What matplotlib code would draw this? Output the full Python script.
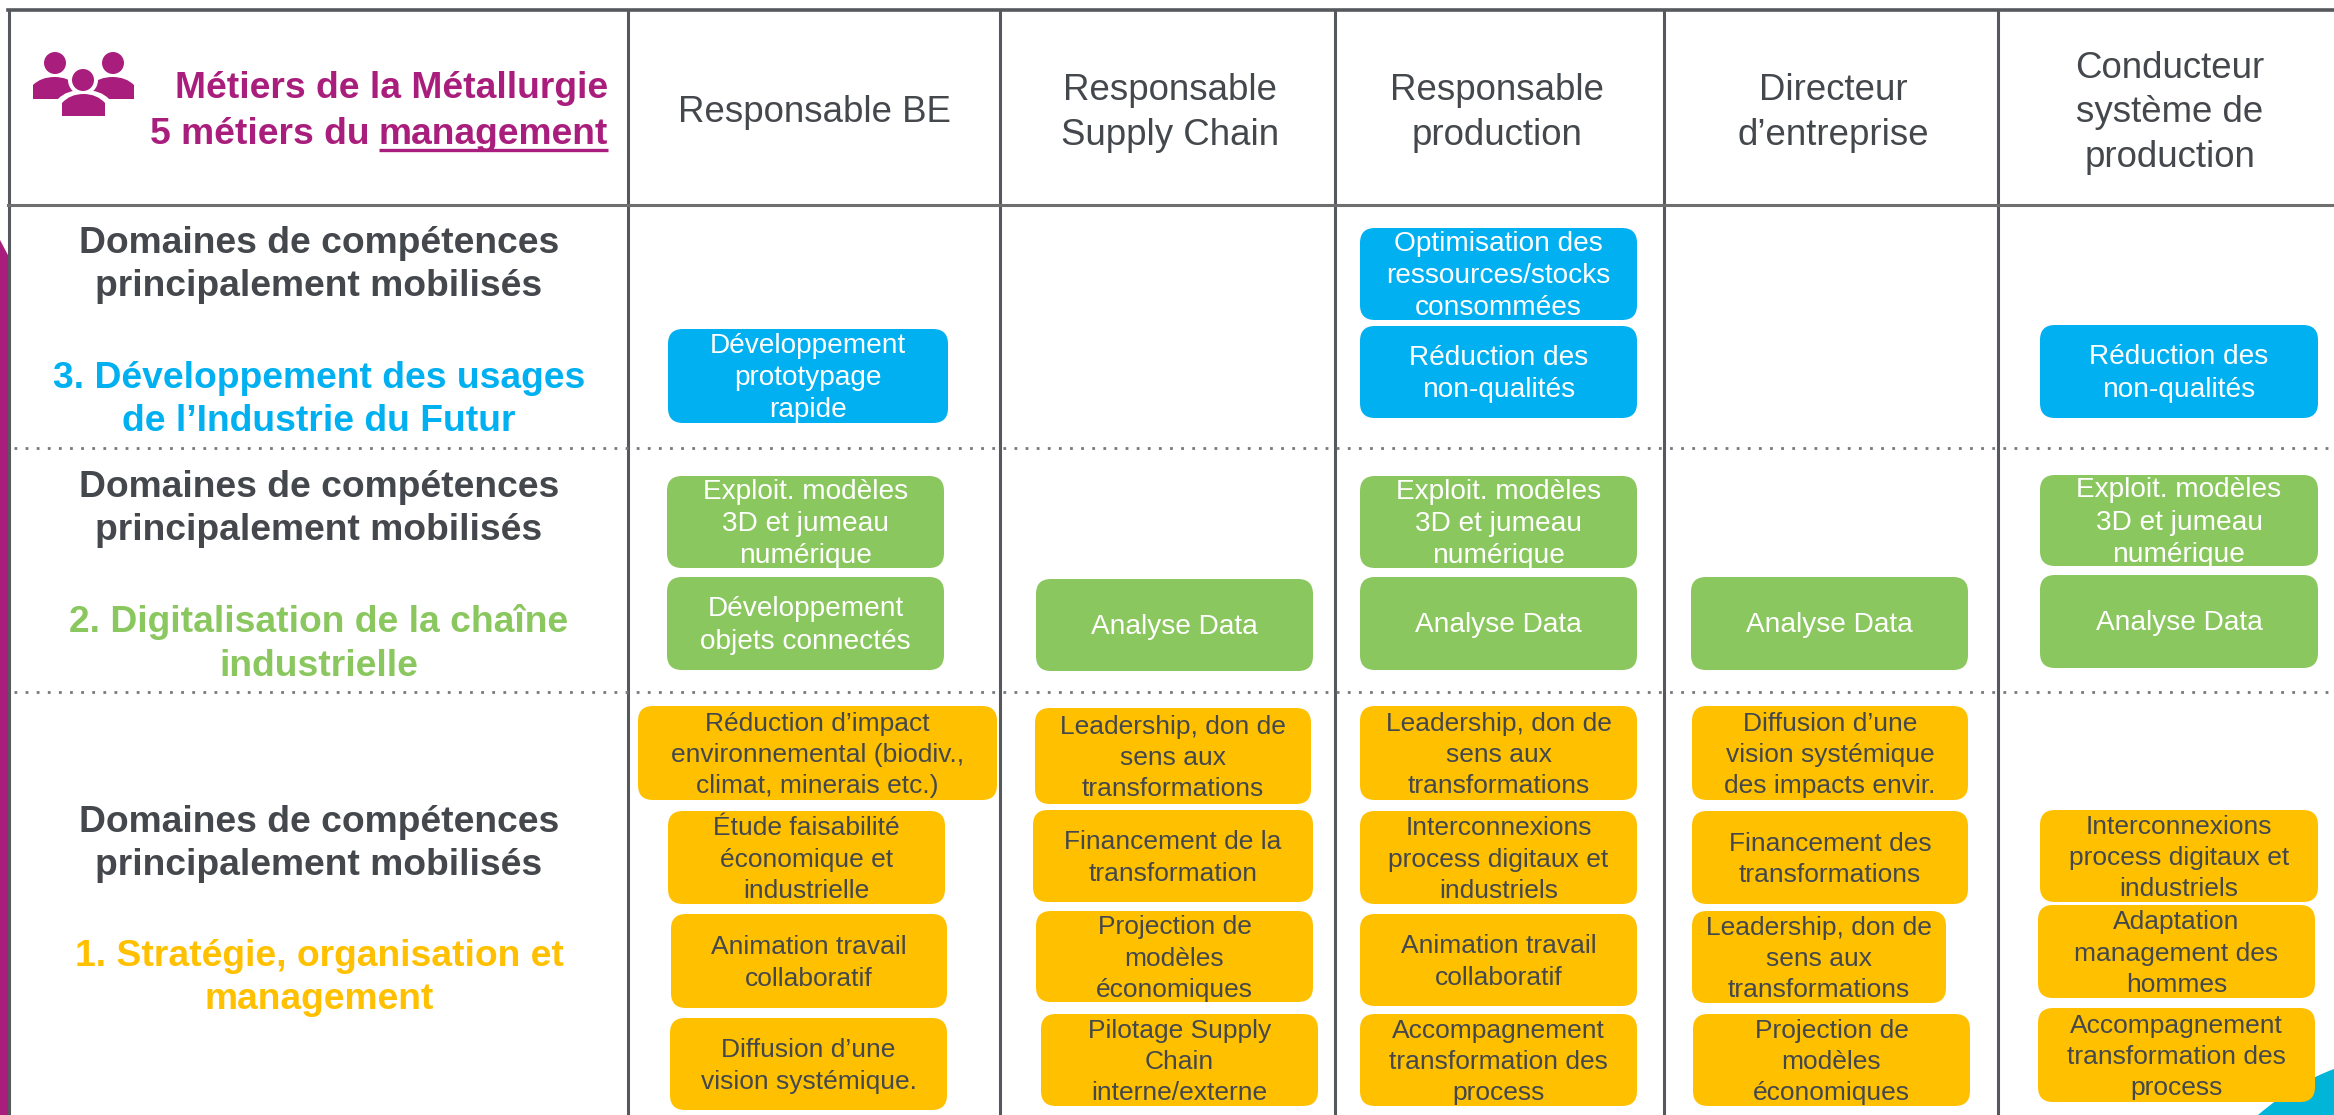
import matplotlib
matplotlib.use('Agg')
import matplotlib.pyplot as plt
from matplotlib.patches import FancyBboxPatch, Circle, Polygon, PathPatch
from matplotlib.path import Path

plt.rcParams['font.family'] = ['Liberation Sans', 'DejaVu Sans']

# ---- content ----
jobs = ['Responsable BE', 'Responsable\nSupply Chain', 'Responsable\nproduction',
        'Directeur\nd’entreprise', 'Conducteur\nsystème de\nproduction']

domain_intro = 'Domaines de compétences\nprincipalement mobilisés'
domain_names = ['3. Développement des usages\nde l’Industrie du Futur',
                '2. Digitalisation de la chaîne\nindustrielle',
                '1. Stratégie, organisation et\nmanagement']

blue_skills = [
    ['Développement\nprototypage\nrapide'],
    [],
    ['Optimisation des\nressources/stocks\nconsommées', 'Réduction des\nnon-qualités'],
    [],
    ['Réduction des\nnon-qualités'],
]
green_skills = [
    ['Exploit. modèles\n3D et jumeau\nnumérique', 'Développement\nobjets connectés'],
    ['Analyse Data'],
    ['Exploit. modèles\n3D et jumeau\nnumérique', 'Analyse Data'],
    ['Analyse Data'],
    ['Exploit. modèles\n3D et jumeau\nnumérique', 'Analyse Data'],
]
orange_skills = [
    ['Réduction d’impact\nenvironnemental (biodiv.,\nclimat, minerais etc.)',
     'Étude faisabilité\néconomique et\nindustrielle',
     'Animation travail\ncollaboratif',
     'Diffusion d’une\nvision systémique.'],
    ['Leadership, don de\nsens aux\ntransformations',
     'Financement de la\ntransformation',
     'Projection de\nmodèles\néconomiques',
     'Pilotage Supply\nChain\ninterne/externe'],
    ['Leadership, don de\nsens aux\ntransformations',
     'Interconnexions\nprocess digitaux et\nindustriels',
     'Animation travail\ncollaboratif',
     'Accompagnement\ntransformation des\nprocess'],
    ['Diffusion d’une\nvision systémique\ndes impacts envir.',
     'Financement des\ntransformations',
     'Leadership, don de\nsens aux\ntransformations',
     'Projection de\nmodèles\néconomiques'],
    ['Interconnexions\nprocess digitaux et\nindustriels',
     'Adaptation\nmanagement des\nhommes',
     'Accompagnement\ntransformation des\nprocess'],
]

# ---- layout, in pixels of the full picture ----
W, H = 2334, 1115
col_lines = [9, 628, 1000, 1335, 1664, 1998]
col_mid = [814, 1170, 1497, 1833, 2170]
blue_boxes = [
    [(668, 329, 948, 423)],
    [],
    [(1360, 228, 1637, 320), (1360, 326, 1637, 418)],
    [],
    [(2040, 325, 2318, 418)],
]
green_boxes = [
    [(667, 476, 944, 568), (667, 577, 944, 670)],
    [(1036, 579, 1313, 671)],
    [(1360, 476, 1637, 568), (1360, 577, 1637, 670)],
    [(1691, 577, 1968, 670)],
    [(2040, 475, 2318, 566), (2040, 575, 2318, 668)],
]
orange_boxes = [
    [(638, 706, 997, 800), (668, 811, 945, 904), (671, 914, 947, 1008), (670, 1018, 947, 1110)],
    [(1035, 708, 1311, 804), (1033, 810, 1313, 902), (1036, 911, 1313, 1002), (1041, 1014, 1318, 1106)],
    [(1360, 706, 1637, 800), (1360, 811, 1637, 904), (1360, 914, 1637, 1006), (1360, 1014, 1637, 1106)],
    [(1692, 706, 1968, 800), (1692, 811, 1968, 904), (1692, 911, 1946, 1003), (1693, 1014, 1970, 1106)],
    [(2040, 810, 2318, 902), (2038, 905, 2315, 998), (2038, 1008, 2315, 1102)],
]

PURPLE = '#A91E7C'
BLUE = '#00B0F0'
GREEN = '#8AC75E'
ORANGE = '#FFC000'
DARK = '#44484D'
LINE = '#55585C'

fig = plt.figure(figsize=(W/100, H/100), dpi=100)
ax = fig.add_axes([0, 0, 1, 1])
ax.set_xlim(0, W)
ax.set_ylim(H, 0)
ax.axis('off')


def draw_boxes(boxes, texts, color, txt_color, size, spacing):
    for cb, ct in zip(boxes, texts):
        for (x0, y0, x1, y1), t in zip(cb, ct):
            r = 15
            p = FancyBboxPatch((x0+r, y0+r), x1-x0-2*r, y1-y0-2*r,
                               boxstyle='round,pad=%d,rounding_size=%d' % (r, r),
                               fc=color, ec='none', zorder=3)
            ax.add_patch(p)
            ax.text((x0+x1)/2, (y0+y1)/2+2, t, ha='center', va='center', color=txt_color,
                    fontsize=size, linespacing=spacing, zorder=4)


def person(x0, x1, top, shoulder, bottom, color, grow=0):
    # flat-bottomed dome for the people icon
    xa, xb = x0-grow, x1+grow
    xm = (xa+xb)/2
    verts = [(xa, bottom), (xa, shoulder-grow),
             (xa+8, top-grow), (xm, top-grow),
             (xb-8, top-grow), (xb, shoulder-grow),
             (xb, bottom), (xa, bottom)]
    codes = [Path.MOVETO, Path.LINETO, Path.CURVE3, Path.CURVE3, Path.CURVE3, Path.CURVE3,
             Path.LINETO, Path.CLOSEPOLY]
    ax.add_patch(PathPatch(Path(verts, codes), fc=color, ec='none'))


# purple bar + teal corner
ax.add_patch(Polygon([(0, 240), (9, 257), (9, H), (0, H)], fc=PURPLE, ec='none', zorder=1))
corner = Path([(2258, H), (2285, 1092), (2310, 1078), (2334, 1069), (2334, H), (2258, H)],
              [Path.MOVETO, Path.CURVE4, Path.CURVE4, Path.CURVE4, Path.LINETO, Path.CLOSEPOLY])
ax.add_patch(PathPatch(corner, fc='#00B5D8', ec='none', zorder=1))

# table lines
for x in col_lines:
    ax.plot([x, x], [10, H], color=LINE, lw=2.2, zorder=2, solid_capstyle='butt')
ax.plot([8, W], [10, 10], color=LINE, lw=2.6, zorder=2)
ax.plot([8, W], [205, 205], color='#706F6F', lw=2.2, zorder=2)
for y in [448, 692]:
    ax.plot([14, W], [y, y], color='#77797C', lw=2, ls=(0, (1, 3)), zorder=2)

# header row
for x, t in zip(col_mid, jobs):
    ax.text(x, 113, t, ha='center', va='center', color=DARK, fontsize=26.4, linespacing=1.34)

# title, the underlined word is a separate text
ax.text(608, 88, 'Métiers de la Métallurgie', ha='right', va='center', color=PURPLE,
        fontsize=26.8, fontweight='bold')
mg = ax.text(608, 134, 'management', ha='right', va='center', color=PURPLE,
             fontsize=26.8, fontweight='bold')
fig.canvas.draw()
bb = mg.get_window_extent().transformed(ax.transData.inverted())
x_left = min(bb.x0, bb.x1)
ax.text(x_left - 9, 134, '5 métiers du', ha='right', va='center', color=PURPLE,
        fontsize=26.8, fontweight='bold')
ax.plot([x_left, 608], [150, 150], color=PURPLE, lw=2.4, solid_capstyle='butt')

# people icon
ax.add_patch(Circle((55, 63), 11, fc=PURPLE, ec='none'))
ax.add_patch(Circle((113, 63), 11, fc=PURPLE, ec='none'))
person(33, 76, 77, 85, 99, PURPLE)
person(91, 134, 77, 85, 99, PURPLE)
ax.add_patch(Circle((83, 80), 15, fc='white', ec='none'))
person(62, 105, 94, 103, 120, 'white', grow=4)
ax.add_patch(Circle((83, 80), 11, fc=PURPLE, ec='none'))
person(62, 105, 94, 103, 116, PURPLE)

# left column
for y, c, t, yn in zip([265, 509, 844], [BLUE, GREEN, ORANGE], domain_names, [400, 644, 978]):
    ax.text(319, y, domain_intro, ha='center', va='center', color=DARK,
            fontsize=26.8, fontweight='bold', linespacing=1.33)
    ax.text(319, yn, t, ha='center', va='center', color=c,
            fontsize=26.8, fontweight='bold', linespacing=1.33)

draw_boxes(blue_boxes, blue_skills, BLUE, 'white', 20.2, 1.31)
draw_boxes(green_boxes, green_skills, GREEN, 'white', 20.2, 1.31)
draw_boxes(orange_boxes, orange_skills, ORANGE, DARK, 19, 1.39)

fig.savefig('out.png', dpi=100)
